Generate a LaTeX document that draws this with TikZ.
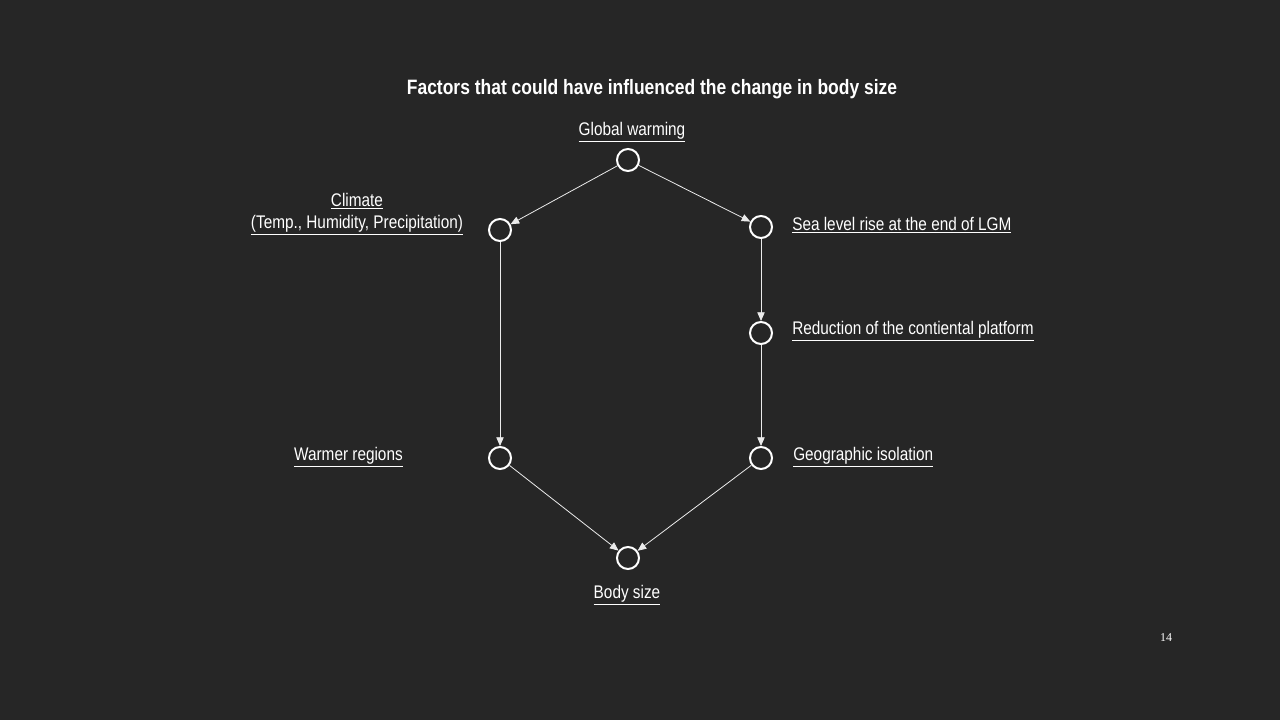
\documentclass[tikz,border=0pt]{standalone}
\usepackage{fontspec}
\setmainfont{Liberation Sans}[FakeStretch=0.84]
\newfontfamily\numfont{Liberation Serif}
\usepackage{tikz}
\usetikzlibrary{arrows.meta}

\definecolor{slidebg}{RGB}{38,38,38}

\begin{document}
\begin{tikzpicture}[x=0.75pt, y=-0.75pt,
  factor/.style={circle, draw=white, line width=1.5pt, minimum size=16.5pt, inner sep=0pt},
  lbl/.style={text=white, font=\fontsize{13.7}{15}\selectfont, inner sep=0pt},
  link/.style={draw=white!92!black, line width=0.6pt, -{Triangle[length=6.5pt, width=5.5pt]}}]
  \fill[slidebg] (0,0) rectangle (1280,720);
  \useasboundingbox (0,0) rectangle (1280,720);

  \node[text=white, font=\bfseries\fontsize{15.6}{18}\selectfont] (title) at (652,89)
    {Factors that could have influenced the change in body size};

  \node[factor] (G) at (628,160) {};
  \node[factor] (C) at (500,230) {};
  \node[factor] (S) at (761,227) {};
  \node[factor] (R) at (761,333) {};
  \node[factor] (W) at (500,458) {};
  \node[factor] (I) at (761,458) {};
  \node[factor] (B) at (628,558) {};

  \node[lbl] (Glbl) at (632,132) {\underline{Global warming}};
  \node[lbl, align=center] (Clbl) at (357,214)
    {\underline{Climate}\\[2pt]\underline{(Temp., Humidity, Precipitation)}};
  \node[lbl, anchor=west] (Slbl) at (792,225) {\underline{Sea level rise at the end of LGM}};
  \node[lbl, anchor=west] (Rlbl) at (792,331) {\underline{Reduction of the contiental platform}};
  \node[lbl, anchor=east] (Wlbl) at (403,457) {\underline{Warmer regions}};
  \node[lbl, anchor=west] (Ilbl) at (793,457) {\underline{Geographic isolation}};
  \node[lbl] (Blbl) at (627,595) {\underline{Body size}};

  \node[text=white, font=\numfont\fontsize{9}{10}\selectfont] (page) at (1166,638) {14};

  \draw[link] (G) -- (C);
  \draw[link] (G) -- (S);
  \draw[link] (S) -- (R);
  \draw[link] (R) -- (I);
  \draw[link] (C) -- (W);
  \draw[link] (W) -- (B);
  \draw[link] (I) -- (B);
\end{tikzpicture}
\end{document}
